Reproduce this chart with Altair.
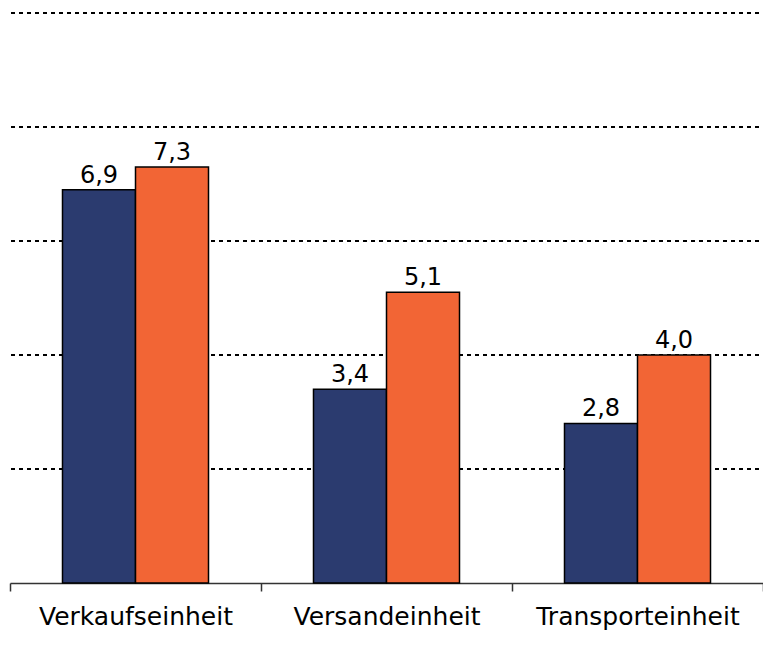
import altair as alt
import pandas as pd

categories = ["Verkaufseinheit", "Versandeinheit", "Transporteinheit"]
series = ["Serie 1", "Serie 2"]
values_1 = [6.9, 3.4, 2.8]
values_2 = [7.3, 5.1, 4.0]
grid_values = [2, 4, 6, 8, 10]
colors = ["#2B3B6F", "#F26535"]

rows = []
for c, a, b in zip(categories, values_1, values_2):
    rows.append({"cat": c, "ser": series[0], "v": a})
    rows.append({"cat": c, "ser": series[1], "v": b})
df = pd.DataFrame(rows)
grid_df = pd.DataFrame({"g": grid_values})

yscale = alt.Scale(domain=[0, 10], nice=False, zero=True)
xscale = alt.Scale(domain=categories, paddingInner=0, paddingOuter=0)
xoff = alt.XOffset("ser:N", scale=alt.Scale(domain=series, paddingOuter=0.719, paddingInner=0))

grid = alt.Chart(grid_df).mark_rule(color="black", strokeWidth=2, strokeDash=[4, 4]).encode(
    y=alt.Y("g:Q", scale=yscale, axis=None),
    x=alt.value(1),
    x2=alt.value(754),
)

xenc = alt.X(
    "cat:N",
    scale=xscale,
    sort=categories,
    axis=alt.Axis(
        title=None,
        labelAngle=0,
        labelFontSize=25,
        labelFont="DejaVu Sans",
        labelColor="black",
        labelPadding=13,
        labelLimit=0,
        domainColor="#333333",
        domainWidth=1.5,
        tickColor="#333333",
        tickWidth=1.5,
        tickSize=8,
        tickBand="extent",
        grid=False,
    ),
)

bars = alt.Chart(df).mark_bar(stroke="black", strokeWidth=1.5).encode(
    x=xenc,
    xOffset=xoff,
    y=alt.Y("v:Q", scale=yscale, axis=None),
    color=alt.Color("ser:N", scale=alt.Scale(domain=series, range=colors), legend=None),
)

text = alt.Chart(df).transform_calculate(
    lab="replace(format(datum.v, '.1f'), '.', ',')"
).mark_text(baseline="bottom", dy=-2, fontSize=24, font="DejaVu Sans", color="black").encode(
    x=xenc,
    xOffset=xoff,
    y=alt.Y("v:Q", scale=yscale, axis=None),
    text="lab:N",
)

chart = alt.layer(grid, bars, text).properties(
    width=753,
    height=570,
    autosize=alt.AutoSizeParams(type="none"),
    padding={"left": 2, "top": 5, "right": 0, "bottom": 50},
).configure_view(stroke=None)

chart.save("out.html", embed_options={"renderer": "svg", "actions": False})
